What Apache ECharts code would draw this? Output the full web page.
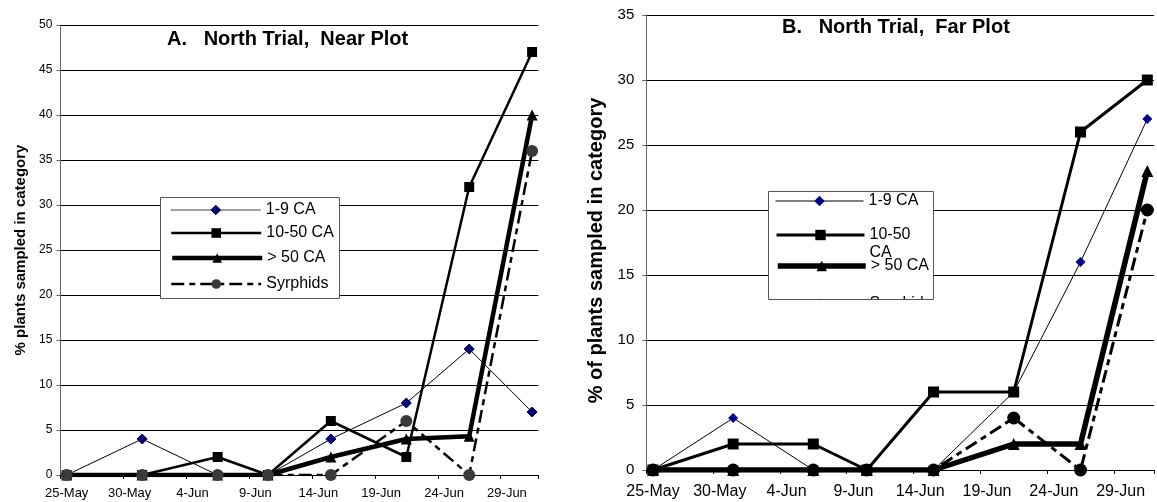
<!DOCTYPE html>
<html><head><meta charset="utf-8">
<script src="https://cdn.jsdelivr.net/npm/echarts@6/dist/echarts.min.js"></script>
<style>
html,body{margin:0;padding:0;background:#fff;}
#a{position:absolute;left:0;top:0;width:570px;height:502px;}
#b{position:absolute;left:570px;top:0;width:587px;height:502px;}
</style></head><body>
<div id="a"></div><div id="b"></div>
<script>
// ---------- data ----------
const sampleDates = ['25-May','31-May','6-Jun','10-Jun','15-Jun','21-Jun','26-Jun','1-Jul'];
const xTickLabels = ['25-May','30-May','4-Jun','9-Jun','14-Jun','19-Jun','24-Jun','29-Jun'];
const seriesNames = ['1-9 CA','10-50 CA','> 50 CA','Syrphids'];
const nearCA1to9   = [0,4,0,0,4,8,14,7];
const nearCA10to50 = [0,0,2,0,6,2,32,47];
const nearCAover50 = [0,0,0,0,2,4,4.3,40];
const nearSyrphids = [0,0,0,0,0,6,0,36];
const farCA1to9    = [0,4,0,0,0,6,16,27];
const farCA10to50  = [0,2,2,0,6,6,26,30];
const farCAover50  = [0,0,0,0,0,2,2,23];
const farSyrphids  = [0,0,0,0,0,4,0,20];
const nearYTicks = [0,5,10,15,20,25,30,35,40,45,50];
const farYTicks  = [0,5,10,15,20,25,30,35];
const axisDays = 38; // 25-May .. 1-Jul inclusive
const titleA = 'A.   North Trial,  Near Plot';
const titleB = 'B.   North Trial,  Far Plot';
const yNameA = '% plants sampled in category';
const yNameB = '% of plants sampled in category';

// ---------- helpers ----------
const MONTHS = {May:4, Jun:5, Jul:6};
const DAY0 = Date.UTC(2000, 4, 25);
function dayCenter(s){
  const [d, m] = s.split('-');
  return (Date.UTC(2000, MONTHS[m], +d) - DAY0) / 86400000 + 0.5;
}
const FONT = '"Liberation Sans", Arial, sans-serif';

function buildSeries(values, styles){
  return values.map((ys, k) => ({
    type: 'line',
    name: seriesNames[k],
    data: sampleDates.map((d, i) => [dayCenter(d), ys[i]]),
    symbol: styles[k].symbol,
    symbolSize: styles[k].size,
    showAllSymbol: true,
    lineStyle: styles[k].line,
    itemStyle: styles[k].item,
    emphasis: {disabled: true},
    animation: false
  }));
}

function buildOption(p){
  const legends = seriesNames.map((n, k) => ({
    data: [{name: n, lineStyle: p.styles[k].legendLine || p.styles[k].line, itemStyle: p.styles[k].item}],
    orient: 'vertical',
    left: p.legendLeft,
    top: p.legendCenters[k] - (k === p.multiRow ? 27 : 9),
    padding: 0,
    itemWidth: p.legendItemWidth,
    itemHeight: p.legendItemHeight,
    selectedMode: false,
    formatter: k === p.multiRow ? (() => ' \n10-50\nCA') : (name => name),
    textStyle: {fontFamily: FONT, fontSize: 16, color: '#000', lineHeight: 18}
  }));
  return {
    animation: false,
    backgroundColor: '#fff',
    title: {
      text: p.title, left: p.titleLeft, top: p.titleTop, padding: 0,
      textStyle: {fontFamily: FONT, fontSize: 20, fontWeight: 'bold', color: '#000', lineHeight: 22}
    },
    grid: {left: p.grid[0], top: p.grid[1], width: p.grid[2], height: p.grid[3], containLabel: false},
    xAxis: {
      type: 'value', min: 0, max: axisDays, interval: 5,
      axisLine: {show: true, lineStyle: {color: '#000', width: 1}},
      axisTick: {show: true, inside: false, length: 4, lineStyle: {color: '#000'}},
      splitLine: {show: false},
      axisLabel: {
        fontFamily: FONT, fontSize: p.xFont, color: '#000', margin: p.xMargin,
        padding: [0, 0, 0, p.labelShift],
        formatter: v => (v % 5 === 0 && v / 5 < xTickLabels.length) ? xTickLabels[v / 5] : ''
      }
    },
    yAxis: {
      type: 'value', min: p.yTicks[0], max: p.yTicks[p.yTicks.length - 1], interval: p.yTicks[1] - p.yTicks[0],
      name: p.yName, nameLocation: 'middle', nameGap: p.nameGap, nameRotate: 90,
      nameTextStyle: {fontFamily: FONT, fontSize: p.nameFont, fontWeight: 'bold', color: '#000', padding: p.namePad},
      axisLine: {show: true, lineStyle: {color: '#666', width: 1}},
      axisTick: {show: true, inside: false, length: 4, lineStyle: {color: '#666'}},
      splitLine: {show: true, lineStyle: {color: '#000', width: 1}},
      axisLabel: {fontFamily: FONT, fontSize: p.yFont, color: '#000', margin: p.yMargin}
    },
    legend: legends,
    graphic: p.graphic,
    series: buildSeries(p.values, p.styles)
  };
}

const dash = [13, 5, 6, 5];
const stylesA = [
  {symbol: 'diamond', size: 10, line: {color: '#000', width: 1}, legendLine: {color: '#808080', width: 1.5},
   item: {color: '#000080', borderColor: '#000030', borderWidth: 1}},
  {symbol: 'rect', size: 10, line: {color: '#000', width: 2.5}, item: {color: '#000'}},
  {symbol: 'triangle', size: 11, line: {color: '#000', width: 4.5}, item: {color: '#000'}},
  {symbol: 'circle', size: 12, line: {color: '#000', width: 2.5, type: dash}, item: {color: '#3a3a3a'}}
];
const stylesB = [
  {symbol: 'diamond', size: 10, line: {color: '#000', width: 1}, item: {color: '#00008b'}},
  {symbol: 'rect', size: 11, line: {color: '#000', width: 3}, item: {color: '#000'}},
  {symbol: 'triangle', size: 12, line: {color: '#000', width: 5.5}, item: {color: '#000'}},
  {symbol: 'circle', size: 13, line: {color: '#000', width: 3, type: dash}, item: {color: '#000'}}
];

const chartA = echarts.init(document.getElementById('a'), null, {renderer: 'canvas'});
chartA.setOption(buildOption({
  title: titleA, titleLeft: 167, titleTop: 28,
  grid: [60.4, 25, 478, 450],
  yTicks: nearYTicks, yName: yNameA, nameGap: 32, nameFont: 15, namePad: [0, 0, 0, 0],
  xFont: 13, xMargin: 12, yFont: 12, yMargin: 8, labelShift: 12.6,
  values: [nearCA1to9, nearCA10to50, nearCAover50, nearSyrphids],
  styles: stylesA,
  legendLeft: 170, legendItemWidth: 90, legendItemHeight: 12,
  legendCenters: [210, 233, 258, 284], multiRow: -1,
  graphic: [
    {type: 'rect', shape: {x: 160.5, y: 197.5, width: 179, height: 101}, z: 3,
     style: {fill: '#fff', stroke: '#555', lineWidth: 1}}
  ]
}));

const chartB = echarts.init(document.getElementById('b'), null, {renderer: 'canvas'});
chartB.setOption(buildOption({
  title: titleB, titleLeft: 212, titleTop: 16,
  grid: [76.3, 15, 509.4, 455],
  yTicks: farYTicks, yName: yNameB, nameGap: 33, nameFont: 20, namePad: [0, 16, 0, 0],
  xFont: 16, xMargin: 14, yFont: 15, yMargin: 12, labelShift: 13.4,
  values: [farCA1to9, farCA10to50, farCAover50, farSyrphids],
  styles: stylesB,
  legendLeft: 205, legendItemWidth: 88, legendItemHeight: 13,
  legendCenters: [201, 235, 266, 304], multiRow: 1,
  graphic: [
    {type: 'rect', shape: {x: 198.5, y: 191.5, width: 165, height: 108}, z: 3,
     style: {fill: '#fff', stroke: 'none'}},
    {type: 'rect', shape: {x: 196, y: 300, width: 170, height: 26}, z: 8,
     style: {fill: '#fff', stroke: 'none'}},
    {type: 'rect', shape: {x: 198.5, y: 191.5, width: 165, height: 108}, z: 9,
     style: {fill: 'none', stroke: '#555', lineWidth: 1}}
  ]
}));
</script>
</body></html>
